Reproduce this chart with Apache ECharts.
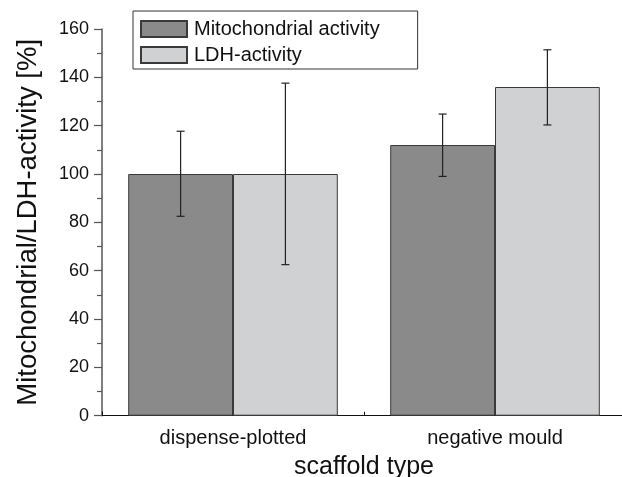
<!DOCTYPE html>
<html>
<head>
<meta charset="utf-8">
<script src="https://cdn.jsdelivr.net/npm/echarts@6/dist/echarts.min.js"></script>
<style>html,body{margin:0;padding:0;background:#fff}#c{width:622px;height:477px}</style>
</head>
<body>
<div id="c"></div>
<script>
var categories = ['dispense-plotted', 'negative mould'];
var seriesNames = ['Mitochondrial activity', 'LDH-activity'];
var mitoValues = [100, 112];
var mitoLow = [82.5, 99];
var mitoHigh = [117.7, 124.8];
var ldhValues = [100, 136];
var ldhLow = [62.5, 120.3];
var ldhHigh = [137.6, 151.4];
var yTicks = [0, 20, 40, 60, 80, 100, 120, 140, 160];

var FONT = 'Liberation Sans';
var chart = echarts.init(document.getElementById('c'));

function errSeries(low, high, offsetFrac) {
  var data = categories.map(function (c, i) { return [i, low[i], high[i]]; });
  return {
    type: 'custom',
    z: 10,
    silent: true,
    clip: false,
    data: data,
    encode: { x: 0, y: [1, 2] },
    renderItem: function (params, api) {
      var i = api.value(0);
      var band = api.size([1, 0])[0];
      var lo = api.coord([i, api.value(1)]);
      var hi = api.coord([i, api.value(2)]);
      var x = lo[0] + band * offsetFrac;
      var cap = 4;
      var st = { stroke: '#222', lineWidth: 1.2 };
      return {
        type: 'group',
        children: [
          { type: 'line', shape: { x1: x, y1: lo[1], x2: x, y2: hi[1] }, style: st },
          { type: 'line', shape: { x1: x - cap, y1: lo[1], x2: x + cap, y2: lo[1] }, style: st },
          { type: 'line', shape: { x1: x - cap, y1: hi[1], x2: x + cap, y2: hi[1] }, style: st }
        ]
      };
    }
  };
}

chart.setOption({
  animation: false,
  backgroundColor: '#fff',
  grid: { left: 102, top: 29, width: 524, height: 386.7, outerBoundsMode: 'none', containLabel: false },
  legend: {
    data: seriesNames,
    orient: 'vertical',
    left: 133,
    top: 11,
    itemWidth: 46,
    itemHeight: 16,
    itemGap: 6,
    padding: [8, 38, 4, 7],
    borderColor: '#333',
    borderWidth: 1,
    icon: 'rect',
    textStyle: { fontFamily: FONT, fontSize: 20, color: '#111', padding: [0, 0, 0, 2] }
  },
  xAxis: {
    type: 'category',
    data: categories,
    name: 'scaffold type',
    nameLocation: 'middle',
    nameGap: 39,
    nameTextStyle: { fontFamily: FONT, fontSize: 25, color: '#111' },
    axisLine: { lineStyle: { color: '#111', width: 1.2 } },
    axisTick: { show: true, inside: true, length: 4, lineStyle: { color: '#111' } },
    axisLabel: { fontFamily: FONT, fontSize: 20, color: '#111', margin: 13 }
  },
  yAxis: {
    type: 'value',
    min: 0,
    max: 160,
    interval: 20,
    name: 'Mitochondrial/LDH-activity [%]',
    nameLocation: 'middle',
    nameGap: 60,
    nameTextStyle: { fontFamily: FONT, fontSize: 27.5, color: '#111' },
    axisLine: { show: true, lineStyle: { color: '#555', width: 1.5 } },
    axisTick: { show: true, length: 8, lineStyle: { color: '#555', width: 1.2 } },
    minorTick: { show: true, splitNumber: 2, length: 5, lineStyle: { color: '#555', width: 1.2 } },
    splitLine: { show: false },
    axisLabel: {
      fontFamily: FONT, fontSize: 18, color: '#111', margin: 13,
      formatter: function (v) { return yTicks.indexOf(v) >= 0 ? String(v) : ''; }
    }
  },
  series: [
    {
      name: seriesNames[0], type: 'bar', data: mitoValues,
      barWidth: '40%', barGap: '0%',
      itemStyle: { color: '#8a8a8b', borderColor: '#3a3a3a', borderWidth: 1 }
    },
    {
      name: seriesNames[1], type: 'bar', data: ldhValues,
      barWidth: '40%', barGap: '0%',
      itemStyle: { color: '#d0d1d3', borderColor: '#3a3a3a', borderWidth: 1 }
    },
    errSeries(mitoLow, mitoHigh, -0.2),
    errSeries(ldhLow, ldhHigh, 0.2)
  ]
});
</script>
</body>
</html>
